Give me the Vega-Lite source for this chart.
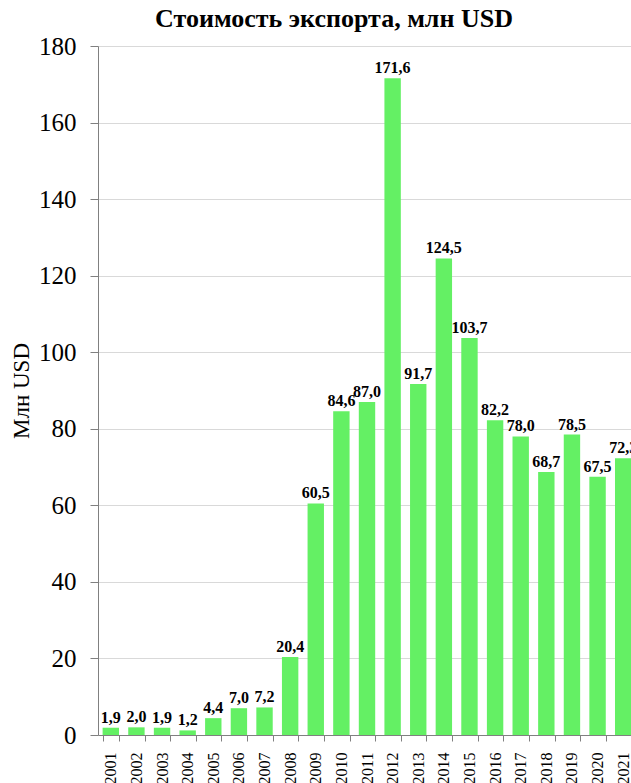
{
  "$schema": "https://vega.github.io/schema/vega-lite/v6.json",
  "autosize": "none",
  "padding": {"left": 98, "top": 46, "right": 0, "bottom": 48},
  "width": 538,
  "height": 689,
  "config": {
    "locale": {"number": {"decimal": ",", "thousands": " ", "grouping": [3], "currency": ["", ""]}},
    "view": {"stroke": null},
    "font": "Liberation Serif"
  },
  "title": {
    "text": "Стоимость экспорта, млн USD",
    "font": "Liberation Serif",
    "fontSize": 26,
    "fontWeight": "bold",
    "color": "#000000",
    "anchor": "middle",
    "dx": -33,
    "offset": 2
  },
  "data": {
    "values": [
      {"year": "2001", "value": 1.9},
      {"year": "2002", "value": 2.0},
      {"year": "2003", "value": 1.9},
      {"year": "2004", "value": 1.2},
      {"year": "2005", "value": 4.4},
      {"year": "2006", "value": 7.0},
      {"year": "2007", "value": 7.2},
      {"year": "2008", "value": 20.4},
      {"year": "2009", "value": 60.5},
      {"year": "2010", "value": 84.6},
      {"year": "2011", "value": 87.0},
      {"year": "2012", "value": 171.6},
      {"year": "2013", "value": 91.7},
      {"year": "2014", "value": 124.5},
      {"year": "2015", "value": 103.7},
      {"year": "2016", "value": 82.2},
      {"year": "2017", "value": 78.0},
      {"year": "2018", "value": 68.7},
      {"year": "2019", "value": 78.5},
      {"year": "2020", "value": 67.5},
      {"year": "2021", "value": 72.3}
    ]
  },
  "encoding": {
    "x": {
      "field": "year",
      "type": "nominal",
      "sort": null,
      "scale": {"paddingInner": 0.36, "paddingOuter": 0.18},
      "axis": {
        "title": null,
        "labelAngle": -90,
        "labelFont": "Liberation Serif",
        "labelFontSize": 16,
        "labelColor": "#000000",
        "labelPadding": 11,
        "tickBand": "extent",
        "tickSize": 6,
        "tickColor": "#808080",
        "domainColor": "#808080",
        "grid": false
      }
    },
    "y": {
      "field": "value",
      "type": "quantitative",
      "scale": {"domain": [0, 180], "nice": false},
      "axis": {
        "title": "Млн USD",
        "titleFont": "Liberation Serif",
        "titleFontSize": 23,
        "titleFontWeight": "normal",
        "titleColor": "#000000",
        "titlePadding": 5,
        "values": [0, 20, 40, 60, 80, 100, 120, 140, 160, 180],
        "labelFont": "Liberation Serif",
        "labelFontSize": 25,
        "labelColor": "#000000",
        "labelPadding": 14,
        "tickSize": 8,
        "tickColor": "#808080",
        "domainColor": "#808080",
        "gridColor": "#d9d9d9",
        "format": "d"
      }
    }
  },
  "layer": [
    {"mark": {"type": "bar", "color": "#64f064"}},
    {
      "mark": {"type": "text", "baseline": "bottom", "dy": -2, "font": "Liberation Serif", "fontSize": 16, "fontWeight": "bold", "color": "#000000"},
      "encoding": {"text": {"field": "value", "type": "quantitative", "format": ".1f"}}
    }
  ]
}
